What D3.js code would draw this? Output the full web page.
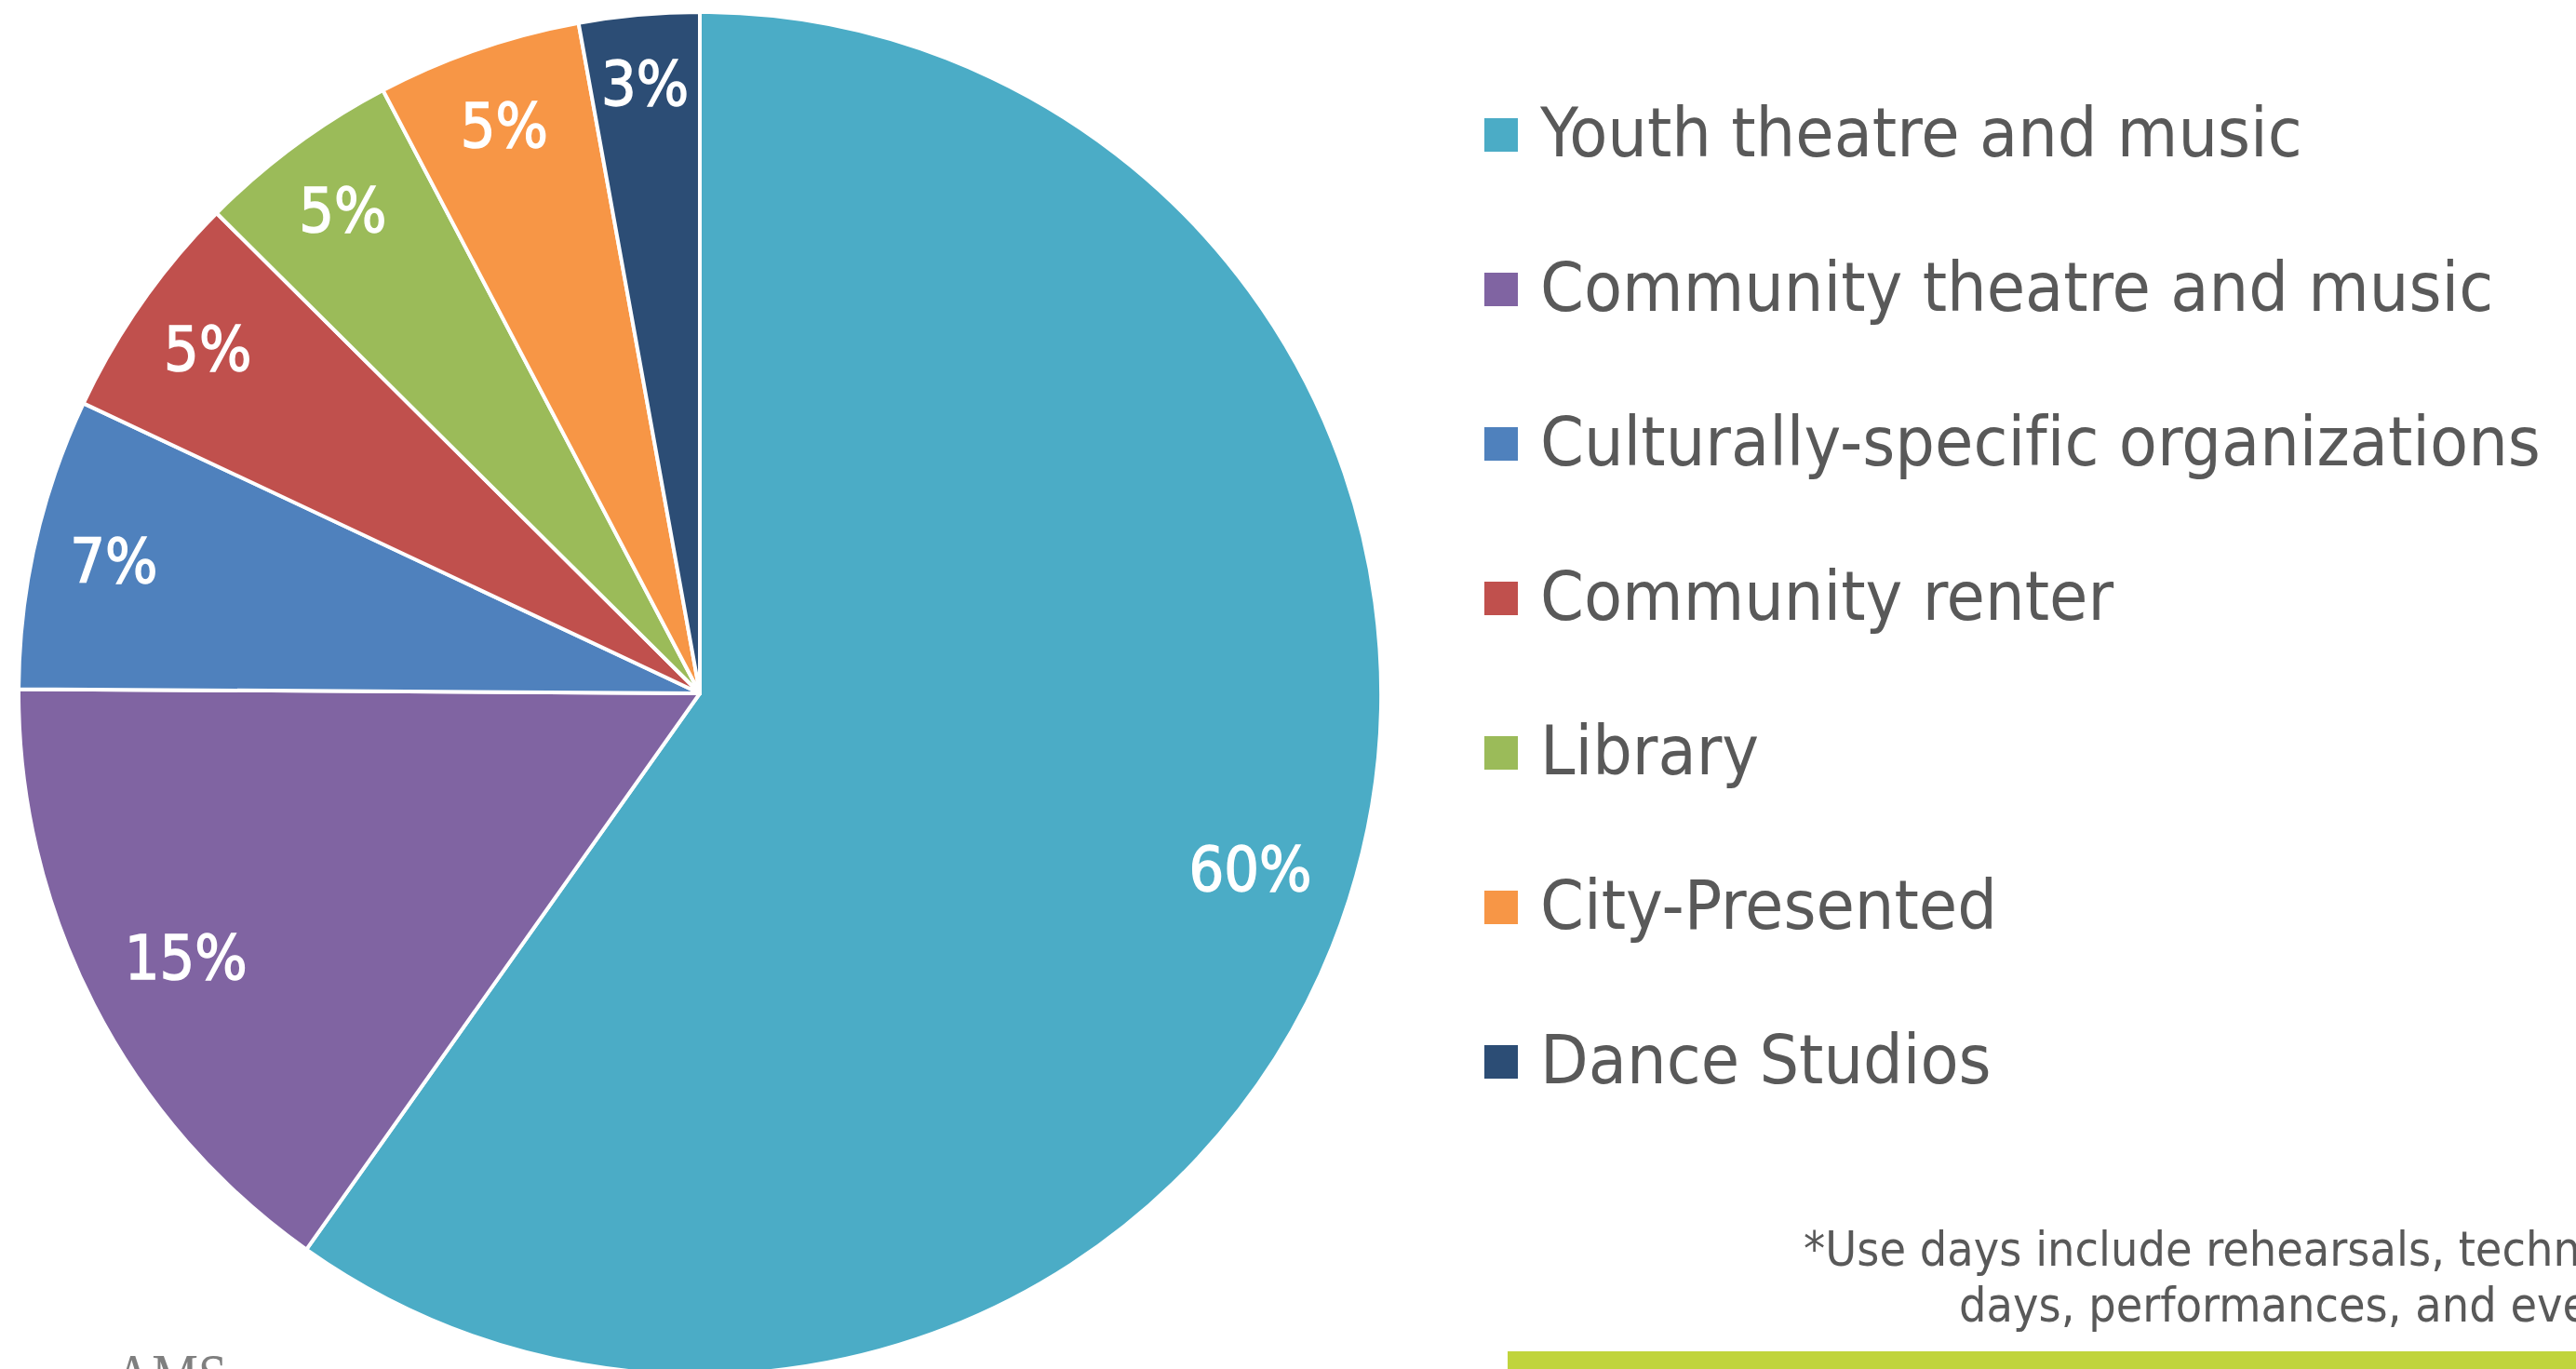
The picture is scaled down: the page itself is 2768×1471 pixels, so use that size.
<!DOCTYPE html>
<html><head><meta charset="utf-8">
<script src="https://cdn.jsdelivr.net/npm/d3@7"></script>
<style>html,body{margin:0;padding:0;background:#fff;overflow:hidden} text{font-variant-ligatures:none}</style>
</head><body>
<svg id="c" width="2768" height="1471"></svg>
<script>
const categories = ["Youth theatre and music","Community theatre and music","Culturally-specific organizations","Community renter","Library","City-Presented","Dance Studios"];
const values = [59.8, 15.3, 6.9, 5.45, 4.85, 4.85, 2.85];
const colors = ["#4bacc6","#8064a2","#4f81bd","#c0504d","#9bbb59","#f79646","#2c4d75"];
const footnoteLines = ["*Use days include rehearsals, technical", "days, performances, and events"];

const W = 2768, H = 1471;
const svg = d3.select("#c");
const cx = 752, cy = 745, R = 732;
const total = d3.sum(values);
const data = categories.map((c,i)=>({name:c, value:values[i], color:colors[i]}));

const pie = d3.pie().value(d=>d.value).sort(null);
const arcs = pie(data);
const arc = d3.arc().innerRadius(0).outerRadius(R);
const g = svg.append("g").attr("transform",`translate(${cx},${cy})`);
g.selectAll("path").data(arcs).join("path")
  .attr("d", arc).attr("fill", d=>d.data.color)
  .attr("stroke","#fff").attr("stroke-width",4).attr("stroke-linejoin","round");

g.selectAll("text.lbl").data(arcs).join("text").attr("class","lbl")
  .attr("transform", d=>{
    const p = d.data.value/total;
    const f = p >= 0.1 ? 0.848 : (p < 0.04 ? 0.9 : 0.882);
    const a = (d.startAngle+d.endAngle)/2;
    return `translate(${Math.sin(a)*R*f},${-Math.cos(a)*R*f})`;
  })
  .attr("text-anchor","middle").attr("dy","0.36em")
  .attr("font-family","'DejaVu Sans Condensed','DejaVu Sans', sans-serif").attr("font-size",66)
  .attr("fill","#fff").attr("stroke","#fff").attr("stroke-width",1.4)
  .text(d=>Math.round(d.data.value/total*100)+"%");

// legend
const lg = svg.append("g");
const rowStep = 166, sq = 36, lx = 1595, ly0 = 127;
const items = lg.selectAll("g").data(data).join("g")
  .attr("transform",(d,i)=>`translate(${lx},${ly0+i*rowStep})`);
items.append("rect").attr("width",sq).attr("height",sq).attr("fill",d=>d.color);
const lt = items.append("text").attr("x",0).attr("y",41)
  .attr("font-family","'DejaVu Sans Condensed','DejaVu Sans',sans-serif").attr("font-size",73)
  .attr("fill","#595959").text(d=>d.name);
const nat = lt.nodes()[0].getComputedTextLength();
const sx = 819/nat;
lt.attr("transform",`translate(60,0) scale(${sx},1)`);

// footnote
const ffam = "'DejaVu Sans Condensed','DejaVu Sans',sans-serif";
const fn = svg.append("g");
const ft = fn.selectAll("text").data(footnoteLines).join("text")
  .attr("font-family",ffam).attr("font-size",52)
  .attr("fill","#595959").text(d=>d);
const probe = fn.append("text").attr("font-family",ffam).attr("font-size",52)
  .text("*Use days include rehearsals, techn");
const fsx = 835/probe.node().getComputedTextLength();
probe.remove();
const starts = [1938, 2105], bases = [1360, 1420];
ft.attr("transform",(d,i)=>`translate(${starts[i]},${bases[i]}) scale(${fsx},1)`);

// green bar
svg.append("rect").attr("x",1620).attr("y",1452).attr("width",W-1620).attr("height",H-1452).attr("fill","#c0d43c");

// logo
svg.append("text").attr("x",123).attr("y",1500)
  .attr("font-family","'Liberation Serif', serif").attr("font-size",66)
  .attr("fill","#7f7f7f").attr("textLength",121).attr("lengthAdjust","spacingAndGlyphs").text("AMS");
</script>
</body></html>
